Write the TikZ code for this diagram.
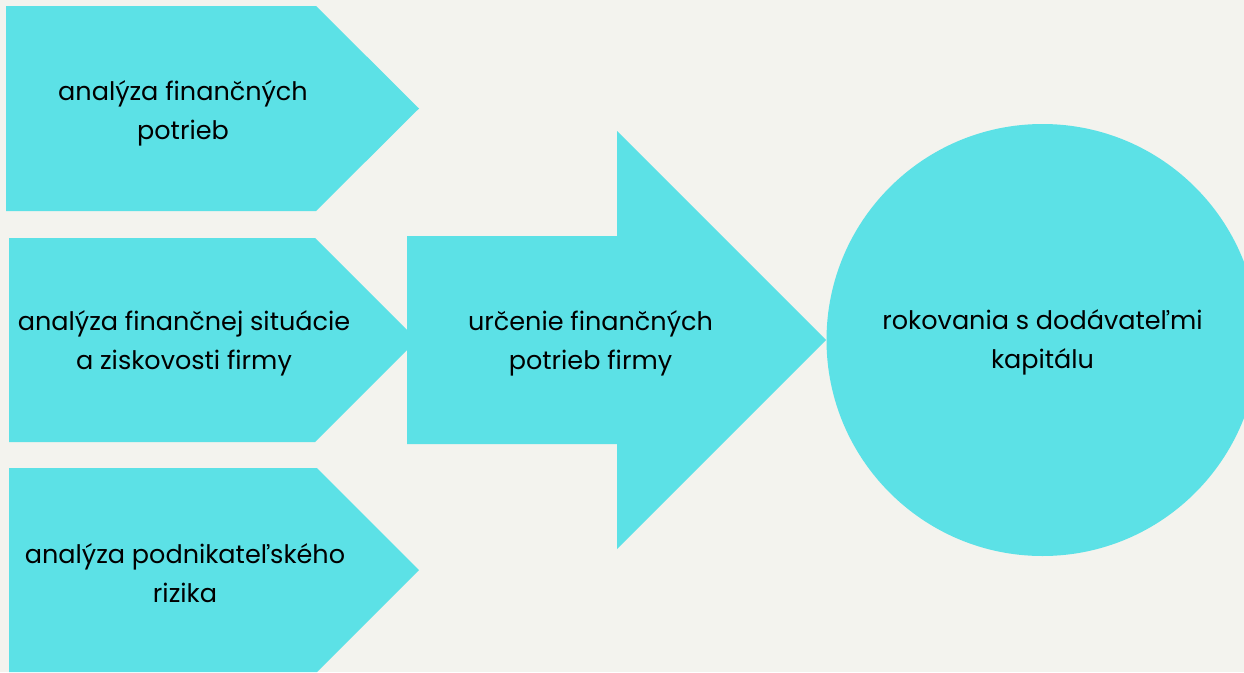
\documentclass[tikz,border=0pt]{standalone}
\usepackage{fontspec}
\setmainfont{Poppins}
\definecolor{bg}{HTML}{F3F3EE}
\definecolor{turq}{HTML}{5CE1E6}
\tikzset{
  shapefill/.style={fill=turq, draw=none},
  lbl/.style={align=center, inner sep=0pt, text=black, font=\fontsize{25.5}{39}\selectfont}
}
\begin{document}
\begin{tikzpicture}[x=1pt,y=-1pt]
\useasboundingbox (0,0) rectangle (1244,672);
\fill[bg] (0,0) rectangle (1244,672);
\clip (0,0) rectangle (1244,672);
% pentagon arrows
\fill[shapefill] (6,6) -- (316,6) -- (419,108.5) -- (316,211) -- (6,211) -- cycle;
\fill[shapefill] (9,238) -- (315,238) -- (417,340) -- (315,442) -- (9,442) -- cycle;
\fill[shapefill] (9,468) -- (317,468) -- (419,570) -- (317,672) -- (9,672) -- cycle;
% big arrow
\fill[shapefill] (407,236) -- (617,236) -- (617,131) -- (826,340) -- (617,549) -- (617,444) -- (407,444) -- cycle;
% circle
\fill[shapefill] (1042.5,340) circle[radius=216];
% labels
\node[lbl] (a1) at (183,113.5) {analýza finančných\\potrieb};
\node[lbl] (a2) at (184,343.5) {analýza finančnej situácie\\a ziskovosti firmy};
\node[lbl] (a3) at (185,573.5) {analýza podnikateľského\\rizika};
\node[lbl] (u) at (590.5,343.5) {určenie finančných\\potrieb firmy};
\node[lbl] (r) at (1042.5,342.5) {rokovania s dodávateľmi\\kapitálu};
\end{tikzpicture}
\end{document}
